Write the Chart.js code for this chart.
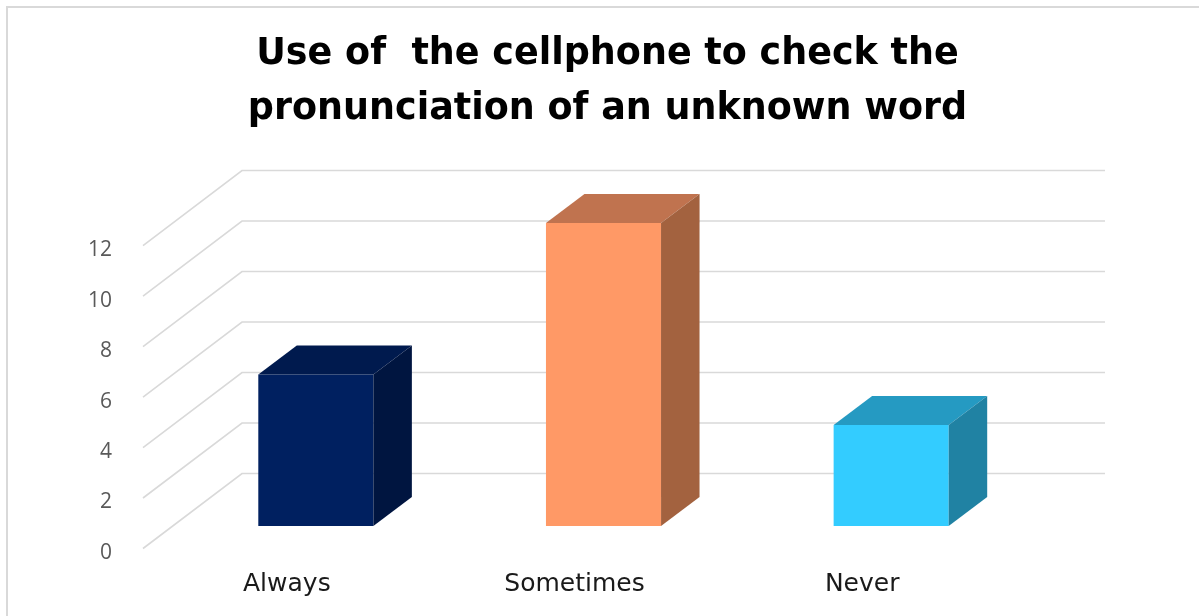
<!DOCTYPE html>
<html>
<head>
<meta charset="utf-8">
<title>Cellphone pronunciation check</title>
<script src="https://cdn.jsdelivr.net/npm/chart.js@4/dist/chart.umd.min.js"></script>
<style>
  html, body { margin: 0; padding: 0; background: #fff; overflow: hidden; }
  canvas { display: block; }
</style>
</head>
<body>
<canvas id="chart" width="1199" height="616"></canvas>
<script>
'use strict';

// ─── Data ─────────────────────────────────────────────────────────────────────

const titleLines = ['Use of  the cellphone to check the', 'pronunciation of an unknown word'];
const categories = ['Always', 'Sometimes', 'Never'];
const answers = [6, 12, 4];
const yTicks = [0, 2, 4, 6, 8, 10, 12];

// face colours per bar: front / top / side
const frontColors = ['#002060', '#FF9966', '#33CCFF'];
const topColors = ['#001A4E', '#C0734F', '#259AC2'];
const sideColors = ['#001540', '#A3623F', '#2082A3'];

// ─── 3D projection ────────────────────────────────────────────────────────────
// the chart area is the plane of the bars' front faces; the floor edge sits in
// front of it and the back wall behind it

const FRONT = { dx: -29, dy: 22.5 };
const BACK = { dx: 70, dy: -52.5 };
const BAR_DEPTH = { dx: 38.5, dy: -29 };
const GRID_COLOR = '#d9d9d9';

const frame3d = {
  id: 'frame3d',
  beforeDraw(chart) {
    const { ctx } = chart;
    ctx.save();
    ctx.strokeStyle = GRID_COLOR;
    ctx.lineWidth = 2;
    ctx.strokeRect(7, 7, chart.width + 50, chart.height + 50);
    ctx.restore();
  },
  beforeDatasetsDraw(chart) {
    const { ctx, chartArea } = chart;
    const y = chart.scales.y;
    ctx.save();
    ctx.strokeStyle = GRID_COLOR;
    ctx.lineWidth = 1.6;
    y.ticks.forEach(t => {
      const py = y.getPixelForValue(t.value);
      ctx.beginPath();
      ctx.moveTo(chartArea.left + FRONT.dx, py + FRONT.dy);
      ctx.lineTo(chartArea.left + BACK.dx, py + BACK.dy);
      ctx.lineTo(chartArea.right + BACK.dx, py + BACK.dy);
      ctx.stroke();
    });
    ctx.restore();
  },
  afterDatasetsDraw(chart) {
    const { ctx } = chart;
    const meta = chart.getDatasetMeta(0);
    ctx.save();
    meta.data.forEach((bar, i) => {
      const { x, y, base, width } = bar.getProps(['x', 'y', 'base', 'width'], true);
      const l = x - width / 2;
      const r = x + width / 2;
      const { dx, dy } = BAR_DEPTH;

      // top face
      ctx.fillStyle = topColors[i];
      ctx.beginPath();
      ctx.moveTo(l, y);
      ctx.lineTo(l + dx, y + dy);
      ctx.lineTo(r + dx, y + dy);
      ctx.lineTo(r, y);
      ctx.closePath();
      ctx.fill();

      // side face
      ctx.fillStyle = sideColors[i];
      ctx.beginPath();
      ctx.moveTo(r, y);
      ctx.lineTo(r + dx, y + dy);
      ctx.lineTo(r + dx, base + dy);
      ctx.lineTo(r, base);
      ctx.closePath();
      ctx.fill();
    });
    ctx.restore();
  },
};

// ─── Chart ────────────────────────────────────────────────────────────────────

new Chart(document.getElementById('chart'), {
  type: 'bar',
  data: {
    labels: categories,
    datasets: [{
      data: answers,
      backgroundColor: frontColors,
      borderWidth: 0,
      categoryPercentage: 1,
      barPercentage: 0.4,
    }],
  },
  options: {
    responsive: false,
    animation: false,
    layout: { padding: { left: 16, right: 0, top: 8, bottom: 0 } },
    plugins: {
      legend: { display: false },
      tooltip: { enabled: false },
      title: {
        display: true,
        text: titleLines,
        color: '#000',
        font: { family: '"DejaVu Sans", sans-serif', size: 36.5, weight: 'bold', lineHeight: 1.48 },
        padding: { top: 20, bottom: 87 },
      },
    },
    scales: {
      x: {
        grid: { display: false },
        border: { display: false },
        ticks: {
          color: '#1a1a1a',
          font: { family: '"DejaVu Sans", sans-serif', size: 25 },
          padding: 35,
          labelOffset: FRONT.dx,
          maxRotation: 0,
        },
        afterFit: (s) => { s.height = 90; },
      },
      y: {
        min: 0,
        max: 12,
        afterBuildTicks: (s) => { s.ticks = yTicks.map(v => ({ value: v })); },
        grid: { display: false },
        border: { display: false },
        ticks: {
          color: '#595959',
          font: { family: '"Open Sans", sans-serif', size: 21 },
          padding: 52,
          labelOffset: 27,
        },
        afterFit: (s) => { s.width = 156; },
      },
      // keeps the plot clear of the right edge so the title centres on the whole frame
      pad: {
        position: 'right',
        grid: { display: false },
        border: { display: false },
        ticks: { display: false },
        afterFit: (s) => { s.width = 164; },
      },
    },
  },
  plugins: [frame3d],
});
</script>
</body>
</html>
